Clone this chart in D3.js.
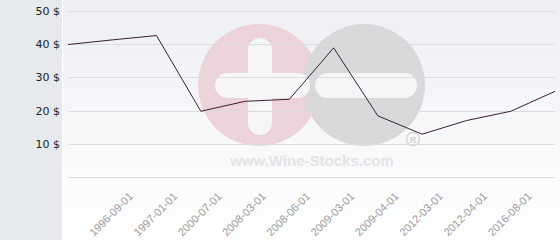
<!DOCTYPE html>
<html>
<head>
<meta charset="utf-8">
<script src="https://cdn.jsdelivr.net/npm/d3@7"></script>
<style>
  html, body { margin: 0; padding: 0; background: #fff; }
  #chart { width: 560px; height: 240px; }
  .y-label { font-family: "DejaVu Sans", sans-serif; font-size: 11px; fill: #222; }
  .x-label { font-family: "Liberation Sans", Arial, sans-serif; font-size: 11px; fill: #9a9a9a; }
</style>
</head>
<body>
<div id="chart"></div>
<script>
// categories (first and last labels are hidden in the original)
const dates = ['', '1996-09-01', '1997-01-01', '2000-07-01', '2008-03-01', '2008-06-01',
               '2009-03-01', '2009-04-01', '2012-03-01', '2012-04-01', '2016-08-01', ''];
// price in $
const prices = [39.9, 41.3, 42.6, 19.8, 22.8, 23.4, 38.9, 18.4, 12.9, 17.0, 19.8, 25.8];
const yTicks = [10, 20, 30, 40, 50];
const gridTicks = [0, 10, 20, 30, 40, 50];

const width = 560, height = 240;
const margin = {top: 11, right: 5, bottom: 63, left: 68};

const svg = d3.select('#chart').append('svg')
    .attr('width', width)
    .attr('height', height);

// background
const defs = svg.append('defs');
const grad = defs.append('linearGradient')
    .attr('id', 'bg-grad')
    .attr('x1', 0).attr('y1', 0).attr('x2', 0).attr('y2', 1);
grad.append('stop').attr('offset', '0%').attr('stop-color', '#eeeff4');
grad.append('stop').attr('offset', '100%').attr('stop-color', '#ffffff');

svg.append('rect')
    .attr('x', 63).attr('y', 0)
    .attr('width', width - 63).attr('height', height)
    .attr('fill', 'url(#bg-grad)');

svg.append('rect')
    .attr('x', 0).attr('y', 0)
    .attr('width', 62).attr('height', height)
    .attr('fill', '#e6eaed');

const x = d3.scalePoint()
    .domain(d3.range(dates.length))
    .range([margin.left, width - margin.right]);

const y = d3.scaleLinear()
    .domain([0, 50])
    .range([height - margin.bottom, margin.top]);

// watermark
const wm = svg.append('g').attr('class', 'watermark');
wm.append('circle').attr('cx', 259).attr('cy', 85).attr('r', 61).attr('fill', '#ebd3d9');
wm.append('circle').attr('cx', 364).attr('cy', 85).attr('r', 61).attr('fill', '#d9d9db');
wm.append('rect').attr('x', 248).attr('y', 38).attr('width', 24).attr('height', 97)
    .attr('rx', 12).attr('fill', '#f6f6f9');
wm.append('rect').attr('x', 215).attr('y', 73).attr('width', 95).attr('height', 25)
    .attr('rx', 12.5).attr('fill', '#f6f6f9');
wm.append('rect').attr('x', 315).attr('y', 73).attr('width', 102).attr('height', 25)
    .attr('rx', 12.5).attr('fill', '#f6f6f9');
wm.append('circle').attr('cx', 413).attr('cy', 139).attr('r', 6.5)
    .attr('fill', 'none').attr('stroke', '#d0d0d0').attr('stroke-width', 1.3);
wm.append('text').attr('x', 413).attr('y', 142.5)
    .attr('text-anchor', 'middle')
    .style('font', 'bold 9px "Liberation Sans", Arial, sans-serif')
    .attr('fill', '#d0d0d0').text('R');
wm.append('text').attr('x', 312).attr('y', 166)
    .attr('text-anchor', 'middle')
    .style('font', 'bold 15px "Liberation Sans", Arial, sans-serif')
    .attr('fill', '#e3e3e5').text('www.Wine-Stocks.com');

// grid lines
svg.append('g')
    .attr('class', 'grid')
    .selectAll('line')
    .data(gridTicks)
    .join('line')
    .attr('x1', margin.left)
    .attr('x2', width - margin.right)
    .attr('y1', d => Math.round(y(d)) + 0.5)
    .attr('y2', d => Math.round(y(d)) + 0.5)
    .attr('stroke', '#dcdcdf')
    .attr('stroke-width', 1);

// Y axis
const yAxis = svg.append('g')
    .attr('transform', 'translate(60,0)')
    .call(d3.axisLeft(y).tickValues(yTicks).tickSize(0).tickPadding(0)
        .tickFormat(d => d + ' $'));
yAxis.select('.domain').remove();
yAxis.selectAll('text')
    .attr('class', 'y-label')
    .attr('fill', null)
    .attr('dy', '0.32em');
yAxis.attr('font-family', null).attr('font-size', null);

// X axis
const xAxis = svg.append('g')
    .attr('transform', 'translate(0,197)')
    .call(d3.axisBottom(x).tickSize(0).tickFormat(i => dates[i]));
xAxis.select('.domain').remove();
xAxis.attr('font-family', null).attr('font-size', null);
xAxis.selectAll('text')
    .attr('class', 'x-label')
    .attr('fill', null)
    .attr('y', 0)
    .attr('dy', 0)
    .style('text-anchor', 'end')
    .attr('transform', 'translate(21,0) rotate(-45)');

// line
const line = d3.line()
    .x((d, i) => x(i))
    .y(d => y(d));

svg.append('path')
    .datum(prices)
    .attr('fill', 'none')
    .attr('stroke', '#3a1f2e')
    .attr('stroke-width', 1)
    .attr('d', line);
</script>
</body>
</html>
